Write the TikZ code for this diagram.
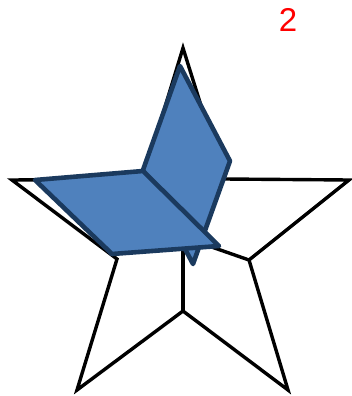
\documentclass[tikz,border=0pt]{standalone}
\usepackage{fontspec}
\setmainfont{Liberation Sans}
\usepackage{xcolor}
\usetikzlibrary{positioning}
\definecolor{flapfill}{HTML}{4F81BD}
\definecolor{flapedge}{HTML}{1B3A5E}

\begin{document}
\begin{tikzpicture}[
    x=1pt, y=-1pt,
    starline/.style={line width=3.4pt, line join=miter},
    flap/.style={fill=flapfill, draw=flapedge, line width=4.6pt, line join=round}
]
\useasboundingbox (0,0) rectangle (352,396);

% Star corners
\coordinate (top) at (183,48);
\coordinate (inr) at (224,179);
\coordinate (rtip) at (349,180);
\coordinate (inlr) at (249,260);
\coordinate (brtip) at (288,390);
\coordinate (inb) at (183,311);
\coordinate (bltip) at (77,390);
\coordinate (inll) at (117,259);
\coordinate (ltip) at (12,180);
\coordinate (inl) at (143,179);
\coordinate (ctr) at (183,237);

% Star outline and creases
\draw[starline] (top) -- (inr) -- (rtip) -- (inlr) -- (brtip) -- (inb) -- (bltip) -- (inll) -- (ltip) -- (inl) -- cycle;
\draw[starline] (ctr) -- (inb);
\draw[starline] (ctr) -- (inlr);

% Folded flaps
\draw[flap] (180,66) coordinate (fa) -- (230,161) coordinate (fb) -- (193,264) coordinate (fc) -- (143,170) coordinate (fd) -- cycle;
\draw[flap] (35,180) coordinate (ga) -- (143,171) coordinate (gb) -- (219,246) coordinate (gc) -- (112,254) coordinate (gd) -- cycle;

% Step number
\node[text=red, font=\fontsize{33}{33}\selectfont, anchor=base, inner sep=0pt] (num) at (288,32) {2};

\end{tikzpicture}
\end{document}
